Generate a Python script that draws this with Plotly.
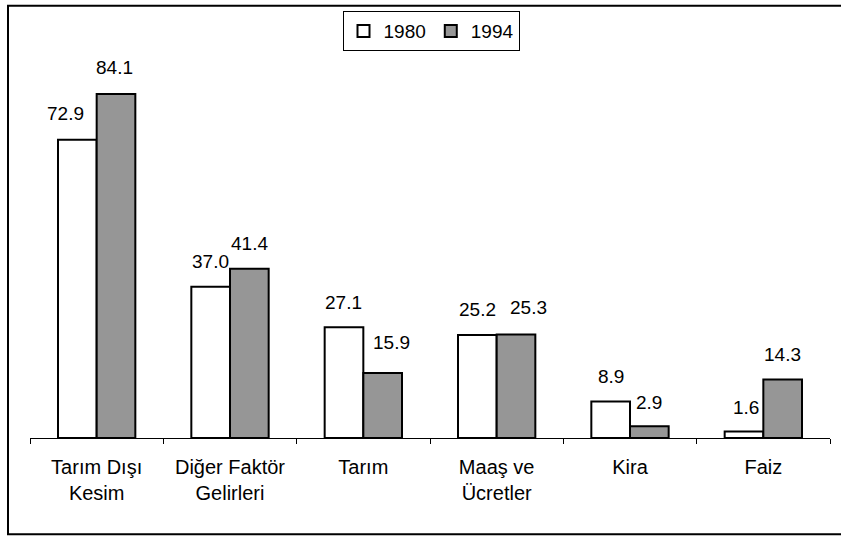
import plotly.graph_objects as go

categories = ["Tarım Dışı<br>Kesim", "Diğer Faktör<br>Gelirleri", "Tarım", "Maaş ve<br>Ücretler", "Kira", "Faiz"]
series_names = ["1980", "1994"]
values_1980 = [72.9, 37.0, 27.1, 25.2, 8.9, 1.6]
values_1994 = [84.1, 41.4, 15.9, 25.3, 2.9, 14.3]

# style: small horizontal nudges / lifts for value labels (pixels)
nudge_1980 = [-12, 0, 0, 0, 0, 2]
nudge_1994 = [-2, 0, 9, 12, 0, 0]
lift_1980 = [26, 25, 25, 25, 25, 24]
lift_1994 = [27, 25, 30, 27, 24, 25]

FONT = "Liberation Sans, Arial, sans-serif"
FS = 19
L, R, T, B = 30, 11, 24, 102
W, H = 841, 540
plot_w = W - L - R
plot_h = H - T - B
bargap = 0.42
cat_w = plot_w / len(categories)
bar_w = cat_w * (1 - bargap) / 2

fig = go.Figure()
fig.add_trace(go.Bar(name=series_names[0], x=categories, y=values_1980,
                     marker=dict(color="white", line=dict(color="black", width=2))))
fig.add_trace(go.Bar(name=series_names[1], x=categories, y=values_1994,
                     marker=dict(color="#969696", line=dict(color="black", width=2))))

ann = []
for i, c in enumerate(categories):
    ann.append(dict(x=c, y=values_1980[i], text=f"{values_1980[i]:.1f}", showarrow=False,
                    xref="x", yref="y", xshift=-bar_w / 2 + nudge_1980[i], yshift=lift_1980[i],
                    yanchor="middle", font=dict(family=FONT, size=FS, color="black")))
    ann.append(dict(x=c, y=values_1994[i], text=f"{values_1994[i]:.1f}", showarrow=False,
                    xref="x", yref="y", xshift=bar_w / 2 + nudge_1994[i], yshift=lift_1994[i],
                    yanchor="middle", font=dict(family=FONT, size=FS, color="black")))

# outer border
x0 = (8 - L) / plot_w
x1 = (W + 5 - L) / plot_w
y0 = (T + plot_h - 535.5) / plot_h
y1 = (T + plot_h - 0.5) / plot_h

fig.update_layout(
    width=W, height=H,
    margin=dict(l=L, r=R, t=T, b=B),
    paper_bgcolor="white", plot_bgcolor="white",
    barmode="group", bargap=bargap, bargroupgap=0,
    font=dict(family=FONT, size=FS, color="black"),
    showlegend=True,
    legend=dict(orientation="h", x=(431 - L) / plot_w, xanchor="center", y=(T + plot_h - 6) / plot_h,
                yanchor="top", bordercolor="black", borderwidth=1, bgcolor="white",
                font=dict(family=FONT, size=FS), itemwidth=30, tracegroupgap=0),
    xaxis=dict(showline=True, linecolor="black", linewidth=1, ticks="outside", tickson="boundaries",
               ticklen=5, tickcolor="black", tickfont=dict(family=FONT, size=20), showgrid=False,
               ticklabelstandoff=11),
    yaxis=dict(visible=False, range=[0, 100], showgrid=False),
    annotations=ann,
    shapes=[dict(type="rect", xref="paper", yref="paper", x0=x0, x1=x1, y0=y0, y1=y1,
                 line=dict(color="black", width=2), fillcolor="rgba(0,0,0,0)", layer="above")],
)

fig.write_html("out.html", config={"displayModeBar": False},
               post_script="document.body.style.margin='0';")
